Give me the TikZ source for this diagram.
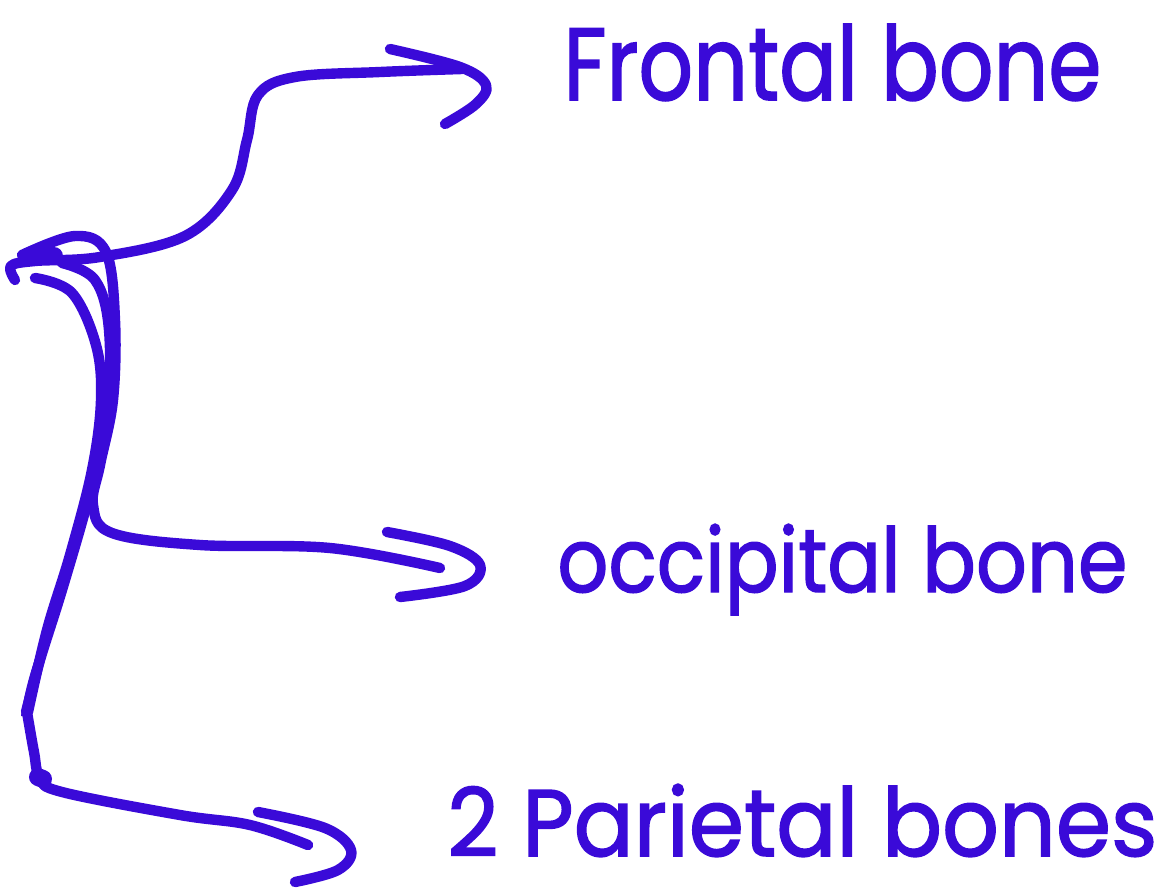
\documentclass[tikz,border=0pt]{standalone}
\usepackage{fontspec}
\setmainfont{Poppins}
\newfontfamily\penfont[FakeBold=1.6]{Poppins}
\usepackage{graphicx}
\definecolor{ink}{RGB}{58,10,216}
\tikzset{
  pen/.style={draw=ink, line width=5.2pt, line cap=round, line join=round},
  blob/.style={draw=ink, line width=9pt, line cap=round},
  lbl/.style={text=ink, inner sep=0pt, font=\fontsize{44}{50}\penfont}
}
\begin{document}
\begin{tikzpicture}[x=0.5pt, y=-0.5pt]
\useasboundingbox (0,0) rectangle (1164,890);

% labels
\node[lbl, anchor=base west] (frontal) at (563,100) {\resizebox{269pt}{38pt}{Frontal bone}};
\node[lbl, anchor=base west] (occipital) at (557,592) {\resizebox{285pt}{34pt}{occipital bone}};
\node[lbl, anchor=base west] (parietal) at (447,856) {\resizebox{355pt}{36pt}{2 Parietal bones}};

% arrow tips
\coordinate (tipF) at (462,69);
\coordinate (tipO) at (440,568);
\coordinate (tipP) at (308,845);

% branch to the frontal bone
\draw[pen] plot[smooth, tension=0.6] coordinates {
  (15,280) (11,266) (35,261) (100,257) (185,236) (232,190) (247,140) (258,95) (295,77) (380,72) (tipF)};
% loop and branch to the occipital bone
\draw[pen] plot[smooth, tension=0.6] coordinates {
  (22,255) (75,236) (106,252) (115,320) (113,400) (100,465) (93,505) (112,533) (200,545) (330,548) (tipO)};
% second stroke of the stem
\draw[pen] plot[smooth, tension=0.6] coordinates {
  (62,263) (95,280) (109,330) (107,420) (88,500) (62,590) (40,660) (26,712)};
% branch to the parietal bones
\draw[pen] plot[smooth, tension=0.6] coordinates {
  (35,278) (72,293) (96,345) (101,400) (92,470) (70,555) (47,630) (28,712)};
\draw[pen] plot[smooth, tension=0.6] coordinates {
  (27,712) (34,752) (40,778) (62,792) (180,815) (250,825) (tipP)};
% thick ink marks
\draw[blob] (36,256) -- (54,256);
\fill[ink] (42,640) .. controls (34,670) and (30,690) .. (30,716)
  -- (21,716) .. controls (24,695) and (30,670) .. (42,640) -- cycle;
\draw[blob] (38,777) -- (43,779);

% arrowheads
\draw[pen] plot[smooth, tension=0.6] coordinates {
  (390,49) (460,67) (486,85) (476,104) (445,124)};
\draw[pen] plot[smooth, tension=0.6] coordinates {
  (387,532) (450,546) (480,565) (465,586) (400,597)};
\draw[pen] plot[smooth, tension=0.6] coordinates {
  (258,812) (325,828) (351,850) (338,870) (295,882)};
\end{tikzpicture}
\end{document}
